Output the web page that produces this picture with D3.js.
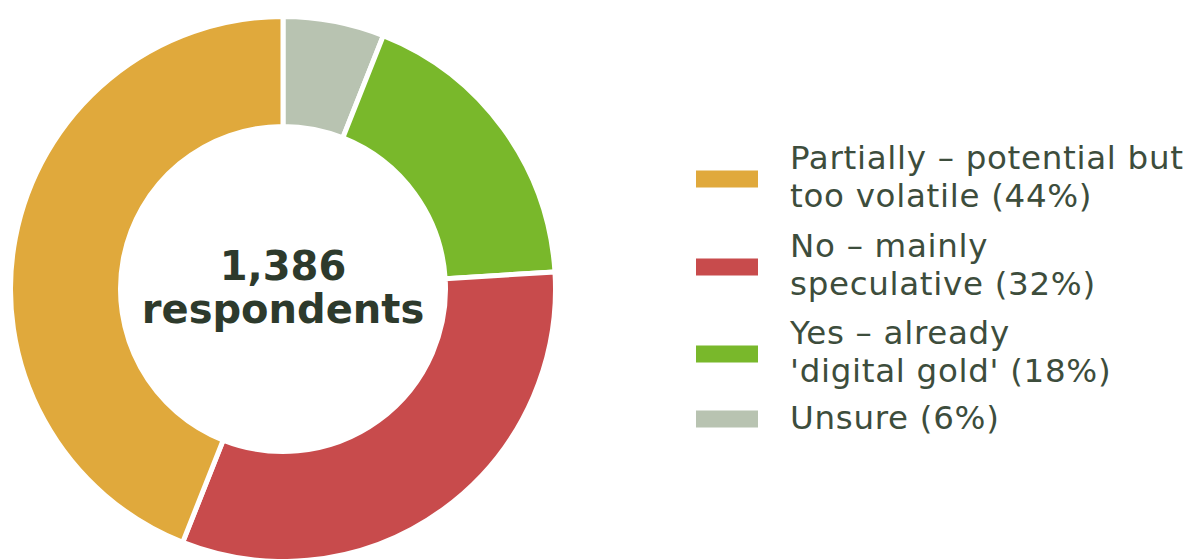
<!DOCTYPE html>
<html>
<head>
<meta charset="utf-8">
<script src="https://cdn.jsdelivr.net/npm/d3@7"></script>
<style>
  html, body { margin: 0; padding: 0; background: #fff; }
  svg { display: block; }
</style>
</head>
<body>
<svg id="chart" width="1190" height="559"></svg>
<script>
// Survey answers, in legend order
const categories = ["Partially", "No", "Yes", "Unsure"];
const shares = [44, 32, 18, 6];
const legendLines = [
  ["Partially \u2013 potential but", "too volatile (44%)"],
  ["No \u2013 mainly", "speculative (32%)"],
  ["Yes \u2013 already", "'digital gold' (18%)"],
  ["Unsure (6%)"]
];
const colors = ["#E0A93C", "#C84B4C", "#79B82B", "#B8C3B1"];
const centerLines = ["1,386", "respondents"];

const svg = d3.select("#chart");
const cx = 283, cy = 289, outerR = 272.5, innerR = 162.5;

const color = d3.scaleOrdinal().domain(categories).range(colors);

// Wedges run clockwise from 12 o'clock, smallest share first
const pieData = categories.map((c, i) => ({ cat: c, value: shares[i] })).reverse();
const pie = d3.pie().sort(null).value(d => d.value);
const arc = d3.arc().innerRadius(innerR).outerRadius(outerR);

svg.append("g")
  .attr("transform", `translate(${cx},${cy})`)
  .selectAll("path")
  .data(pie(pieData))
  .join("path")
  .attr("d", arc)
  .attr("fill", d => color(d.data.cat))
  .attr("stroke", "#fff")
  .attr("stroke-width", 5)
  .attr("stroke-linejoin", "miter");

// Total in the hole
svg.append("g")
  .selectAll("text")
  .data(centerLines)
  .join("text")
  .attr("x", cx)
  .attr("y", (d, i) => 280 + i * 43)
  .attr("text-anchor", "middle")
  .attr("font-family", "DejaVu Sans")
  .attr("font-weight", "bold")
  .attr("font-size", 40)
  .attr("fill", "#2D3A2C")
  .text(d => d);

// Legend: swatch centre and first-line baseline for each entry
const swatchY = [179, 267, 354, 419];
const firstBaseline = [169, 256.5, 343.5, 429];
const lineGap = 38;
const legend = svg.append("g");
categories.forEach((c, i) => {
  const g = legend.append("g");
  g.append("rect")
    .attr("x", 696)
    .attr("y", swatchY[i] - 8.5)
    .attr("width", 62)
    .attr("height", 17)
    .attr("fill", color(c));
  g.selectAll("text")
    .data(legendLines[i])
    .join("text")
    .attr("x", 790)
    .attr("y", (d, j) => firstBaseline[i] + j * lineGap)
    .attr("font-family", "DejaVu Sans")
    .attr("font-size", 32.5)
    .attr("letter-spacing", 0.7)
    .attr("fill", "#3D4D3C")
    .text(d => d);
});
</script>
</body>
</html>
